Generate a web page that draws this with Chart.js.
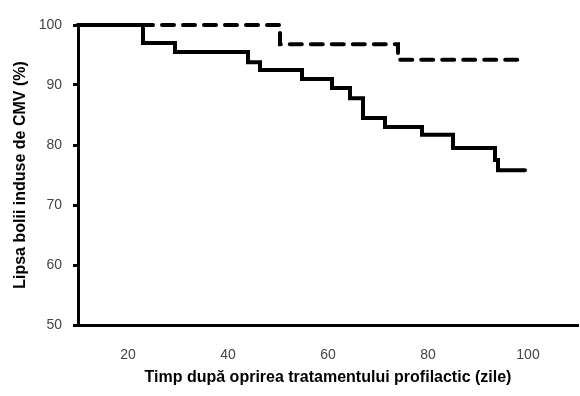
<!DOCTYPE html>
<html>
<head>
<meta charset="utf-8">
<script src="https://cdn.jsdelivr.net/npm/chart.js@4"></script>
<style>
    html, body { margin: 0; padding: 0; background: #fff; }
    #wrap { width: 580px; height: 396px; }
</style>
</head>
<body>
<div id="wrap"><canvas id="chart1"></canvas></div>
<script>
// Curba continua (pasii Kaplan-Meier)
const solidX = [10, 23, 29.4, 44, 46.4, 54.8, 60.8, 64.4, 67, 71.4, 78.8, 85, 93.4, 94, 99.4];
const solidY = [100, 97, 95.5, 93.8, 92.5, 91, 89.5, 87.8, 84.5, 83, 81.7, 79.5, 77.5, 75.8, 75.8];

// Curba punctata
const dashX = [10, 50.4, 74, 99.4];
const dashY = [100, 96.8, 94.2, 94.2];

// Etichete axe
const xTicks = [20, 40, 60, 80, 100];
const yTicks = [50, 60, 70, 80, 90, 100];

const xTitle = "Timp după oprirea tratamentului profilactic (zile)";
const yTitle = "Lipsa bolii induse de CMV (%)";

function toPoints(xs, ys) {
    return xs.map((x, i) => ({ x: x, y: ys[i] }));
}

document.addEventListener("DOMContentLoaded", () => {
    const ctx = document.getElementById("chart1").getContext("2d");

    new Chart(ctx, {
        type: "line",
        data: {
            datasets: [
                {
                    label: "continua",
                    data: toPoints(solidX, solidY),
                    borderColor: "#000",
                    borderWidth: 4,
                    stepped: true,
                    pointRadius: 0,
                    borderCapStyle: "round",
                    borderJoinStyle: "miter",
                    clip: false,
                    order: 1
                },
                {
                    label: "punctata",
                    data: toPoints(dashX, dashY),
                    borderColor: "#000",
                    borderWidth: 4,
                    borderDash: [12, 9],
                    stepped: true,
                    pointRadius: 0,
                    borderCapStyle: "round",
                    borderJoinStyle: "miter",
                    clip: false,
                    order: 2
                }
            ]
        },
        options: {
            responsive: true,
            maintainAspectRatio: false,
            animation: false,
            layout: { padding: { top: 25, right: 2, bottom: 0, left: 0 } },
            plugins: {
                legend: { display: false },
                tooltip: { enabled: false }
            },
            scales: {
                x: {
                    type: "linear",
                    min: 10,
                    max: 110,
                    afterBuildTicks: (axis) => { axis.ticks = xTicks.map(v => ({ value: v })); },
                    afterFit: (axis) => { axis.height = 71; },
                    grid: { display: false },
                    border: { display: true, color: "#000", width: 3 },
                    ticks: {
                        color: "#444",
                        font: { family: "Arial, 'Liberation Sans'", size: 14 },
                        padding: 14,
                        maxRotation: 0
                    },
                    title: {
                        display: true,
                        text: xTitle,
                        color: "#000",
                        font: { family: "Arial, 'Liberation Sans'", size: 16, weight: "bold" },
                        padding: { top: 4, bottom: 9 }
                    }
                },
                y: {
                    min: 50,
                    max: 100,
                    afterBuildTicks: (axis) => { axis.ticks = yTicks.map(v => ({ value: v })); },
                    afterFit: (axis) => { axis.width = 78; },
                    grid: {
                        drawOnChartArea: false,
                        drawTicks: true,
                        tickLength: 5,
                        tickColor: "#000",
                        tickWidth: 3
                    },
                    border: { display: true, color: "#000", width: 3 },
                    ticks: {
                        color: "#444",
                        font: { family: "Arial, 'Liberation Sans'", size: 14 },
                        padding: 11
                    },
                    title: {
                        display: true,
                        text: yTitle,
                        color: "#000",
                        font: { family: "Arial, 'Liberation Sans'", size: 16, weight: "bold" },
                        padding: { top: 11, bottom: 4 }
                    }
                }
            }
        }
    });
});
</script>
</body>
</html>
